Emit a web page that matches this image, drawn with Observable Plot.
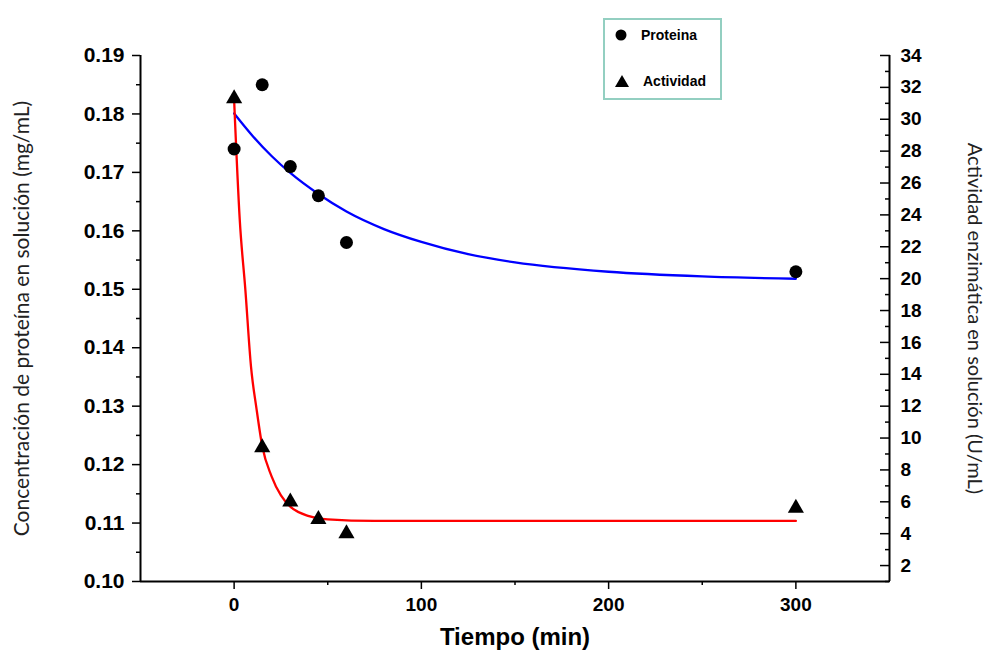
<!DOCTYPE html>
<html>
<head>
<meta charset="utf-8">
<script src="https://cdn.jsdelivr.net/npm/d3@7"></script>
<script src="https://cdn.jsdelivr.net/npm/@observablehq/plot@0.6"></script>
<style>
  html, body { margin: 0; padding: 0; background: #fff; }
  #wrap { position: relative; width: 990px; height: 658px; }
  #legend { position: absolute; left: 603px; top: 18px; width: 115px; height: 78px;
    border: 2px solid #93cfc1; background: #fff; font-family: "Liberation Sans", Arial, sans-serif;
    font-weight: bold; font-size: 14px; color: #000; }
  #legend .row { position: absolute; left: 0; height: 20px; display: flex; align-items: center; }
  #legend svg { margin-left: 9px; margin-right: 13px; }
</style>
</head>
<body>
<div id="wrap">
  <div id="chart"></div>
  <div id="legend">
    <div class="row" style="top:5px"><svg width="14" height="14"><circle cx="7" cy="7" r="5.5" fill="#000"/></svg><span>Proteina</span></div>
    <div class="row" style="top:51px"><svg width="16" height="14"><path d="M8,1 L15,13 L1,13 Z" fill="#000"/></svg><span>Actividad</span></div>
  </div>
</div>
<script>
// Measured data
const tiempo = [0, 15, 30, 45, 60, 300];
const proteina = [0.174, 0.185, 0.171, 0.166, 0.158, 0.153];
const actividad = [31.3, 9.4, 6.0, 4.9, 4.0, 5.6];

// Fitted curves
const ajusteProtX = [0, 10, 20, 30, 45, 60, 80, 100, 125, 150, 200, 250, 300];
const ajusteProtY = [0.1801, 0.1762, 0.1728, 0.1699, 0.1663, 0.1633, 0.1603, 0.1581, 0.1560, 0.1546, 0.1530, 0.1522, 0.1518];
const ajusteActX = [0, 3, 6, 9, 12, 15, 20, 25, 30, 40, 50, 75, 150, 300];
const ajusteActY = [31.2, 23.7, 19.3, 14.5, 11.8, 9.5, 7.6, 6.4, 5.7, 5.1, 4.9, 4.8, 4.8, 4.8];

// Axis ticks
const xMajor = [0, 100, 200, 300];
const xMinor = [50, 150, 250];
const yLeftMajor = [0.10, 0.11, 0.12, 0.13, 0.14, 0.15, 0.16, 0.17, 0.18, 0.19];
const yLeftMinor = [0.105, 0.115, 0.125, 0.135, 0.145, 0.155, 0.165, 0.175, 0.185];
const yRightMajor = [2, 4, 6, 8, 10, 12, 14, 16, 18, 20, 22, 24, 26, 28, 30, 32, 34];
const yRightMinor = [1, 3, 5, 7, 9, 11, 13, 15, 17, 19, 21, 23, 25, 27, 29, 31, 33];

const leftDomain = [0.10, 0.19];
const rightDomain = [1, 34];
const toLeft = a => leftDomain[0] + (a - rightDomain[0]) * (leftDomain[1] - leftDomain[0]) / (rightDomain[1] - rightDomain[0]);
const fromLeft = v => rightDomain[0] + (v - leftDomain[0]) * (rightDomain[1] - rightDomain[0]) / (leftDomain[1] - leftDomain[0]);

const puntos = tiempo.map((t, i) => ({t, p: proteina[i], a: toLeft(actividad[i])}));
const curvaP = ajusteProtX.map((t, i) => ({t, v: ajusteProtY[i]}));
const curvaA = ajusteActX.map((t, i) => ({t, v: toLeft(ajusteActY[i])}));

const tickFont = {fontSize: 19, fontWeight: "bold"};

const chart = Plot.plot({
  width: 990,
  height: 658,
  marginLeft: 140,
  marginRight: 101,
  marginTop: 55,
  marginBottom: 77,
  style: {fontFamily: "'Liberation Sans', Arial, sans-serif", color: "#000", background: "#fff"},
  x: {domain: [-50, 350]},
  y: {domain: leftDomain},
  marks: [
    Plot.line(curvaP, {x: "t", y: "v", stroke: "#0000ff", strokeWidth: 2.3, curve: "monotone-x"}),
    Plot.line(curvaA, {x: "t", y: "v", stroke: "#ff0000", strokeWidth: 2.3, curve: "monotone-x"}),
    Plot.dot(puntos, {x: "t", y: "p", r: 6.5, fill: "#000", symbol: "circle"}),
    Plot.dot(puntos, {x: "t", y: "a", r: 6, fill: "#000", symbol: "triangle"}),
    Plot.ruleX([-50], {strokeWidth: 2}),
    Plot.ruleX([350], {strokeWidth: 2}),
    Plot.ruleY([0.10], {strokeWidth: 2}),
    Plot.axisX(xMajor, {tickSize: 8, tickPadding: 8, strokeWidth: 1.5, label: null, tickFormat: d => d, ...tickFont}),
    Plot.axisX(xMinor, {tickSize: 4, strokeWidth: 1.5, label: null, tickFormat: () => ""}),
    Plot.axisY(yLeftMajor, {anchor: "left", tickSize: 8, tickPadding: 8, strokeWidth: 1.5, label: null, tickFormat: d3.format(".2f"), ...tickFont, fontSize: 21}),
    Plot.axisY(yLeftMinor, {anchor: "left", tickSize: 4, strokeWidth: 1.5, label: null, tickFormat: () => ""}),
    Plot.axisY(yRightMajor.map(toLeft), {anchor: "right", tickSize: -10, tickPadding: 21, strokeWidth: 1.5, label: null, tickFormat: d => Math.round(fromLeft(d)), ...tickFont}),
    Plot.axisY(yRightMinor.map(toLeft), {anchor: "right", tickSize: -5, strokeWidth: 1.5, label: null, tickFormat: () => ""}),
    Plot.text(["Tiempo (min)"], {frameAnchor: "bottom", dy: 63, fontSize: 24, fontWeight: "bold", text: d => d}),
    Plot.text(["Concentración de proteína en solución (mg/mL)"], {frameAnchor: "left", dx: -118, rotate: -90, textAnchor: "middle", fontSize: 21, fontFamily: "Lato, 'Open Sans', sans-serif", fill: "#222", text: d => d}),
    Plot.text(["Actividad enzimática en solución (U/mL)"], {frameAnchor: "right", dx: 85, rotate: 90, textAnchor: "middle", fontSize: 20, fontFamily: "Lato, 'Open Sans', sans-serif", fill: "#222", text: d => d})
  ]
});
document.getElementById("chart").appendChild(chart);
</script>
</body>
</html>
